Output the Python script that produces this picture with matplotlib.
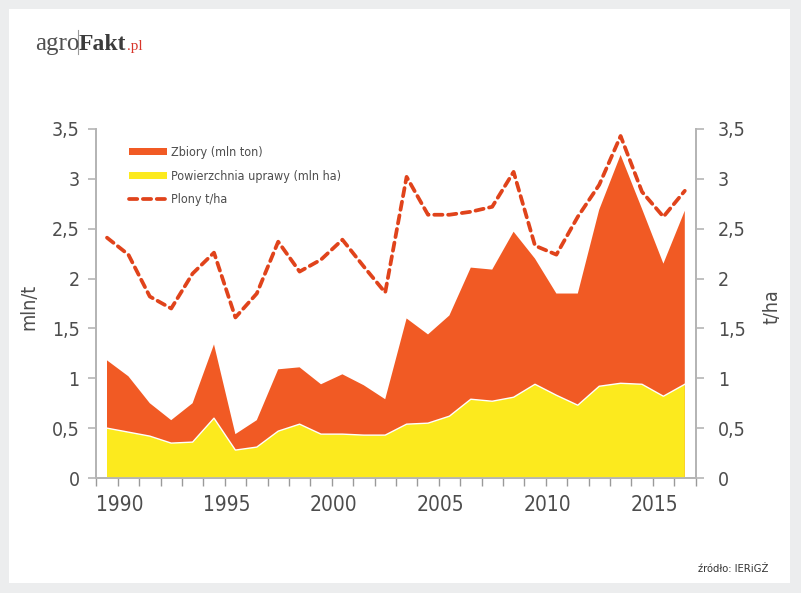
import matplotlib
matplotlib.use('Agg')

import matplotlib.pyplot as plt
from matplotlib.patches import Patch, Rectangle
from matplotlib.lines import Line2D


###### DATA ##########################################################################################
years = list(range(1990, 2018))

# Zbiory (mln ton)
zbiory = [1.18, 1.02, 0.75, 0.58, 0.75, 1.34, 0.44, 0.58, 1.09, 1.11,
          0.94, 1.04, 0.93, 0.79, 1.60, 1.44, 1.63, 2.11, 2.09, 2.47,
          2.20, 1.85, 1.85, 2.69, 3.24, 2.70, 2.15, 2.68]

# Powierzchnia uprawy (mln ha)
powierzchnia = [0.50, 0.46, 0.42, 0.35, 0.36, 0.60, 0.28, 0.31, 0.47, 0.54,
                0.44, 0.44, 0.43, 0.43, 0.54, 0.55, 0.62, 0.79, 0.77, 0.81,
                0.94, 0.83, 0.73, 0.92, 0.95, 0.94, 0.82, 0.94]

# Plony t/ha
plony = [2.41, 2.24, 1.82, 1.70, 2.05, 2.26, 1.61, 1.85, 2.37, 2.07,
         2.19, 2.39, 2.12, 1.86, 3.02, 2.64, 2.64, 2.67, 2.72, 3.07,
         2.33, 2.24, 2.62, 2.94, 3.43, 2.87, 2.62, 2.88]

label_years = [1990, 1995, 2000, 2005, 2010, 2015]
y_ticks = [0, 0.5, 1, 1.5, 2, 2.5, 3, 3.5]
y_tick_labels = ['0', '0,5', '1', '1,5', '2', '2,5', '3', '3,5']

legend_labels = ['Zbiory (mln ton)', 'Powierzchnia uprawy (mln ha)', 'Plony t/ha']


###### STYLE #########################################################################################
ORANGE = '#f15a24'
YELLOW = '#fcea1e'
DASH = '#e0431b'
TEXT = '#4d4d4d'
SPINE = '#b5b5b5'
BG = '#ecedee'

# condensed DejaVu (falls back to plain DejaVu if missing)
plt.rcParams['font.family'] = ['DejaVu Sans']
plt.rcParams['font.stretch'] = 'condensed'


###### FIGURE ########################################################################################
fig = plt.figure(figsize=(8.01, 5.93), dpi=100)
fig.patch.set_facecolor(BG)

# white card behind everything
card = Rectangle((9 / 801, 1 - 583 / 593), 781 / 801, 574 / 593,
                 transform=fig.transFigure, facecolor='white', edgecolor='none', zorder=-10)
fig.patches.append(card)

ax = fig.add_axes([96.3 / 801, 1 - 478 / 593, 599.2 / 801, 349 / 593])
ax.set_facecolor('none')
ax2 = ax.twinx()
ax2.set_facecolor('none')

# areas: harvest behind, area under cultivation in front (overlapping, not stacked)
ax.fill_between(years, 0, zbiory, facecolor=ORANGE, edgecolor='none', zorder=2)
ax.fill_between(years, 0, powierzchnia, facecolor=YELLOW, edgecolor='none', zorder=3)
ax.plot(years, powierzchnia, color='white', linewidth=1.0, zorder=4)

# yield on the right-hand axis
ax2.plot(years, plony, color=DASH, linewidth=2.7, linestyle=(0, (2.2, 1.5)),
         dash_capstyle='round', zorder=5)

for a in (ax, ax2):
    a.set_xlim(years[0] - 0.5, years[-1] + 0.5)
    a.set_ylim(0, 3.5)
    a.spines['top'].set_visible(False)
    for s in a.spines.values():
        s.set_color(SPINE)
        s.set_linewidth(1.3)

ax.set_yticks(y_ticks)
ax.set_yticklabels(y_tick_labels)
ax2.set_yticks(y_ticks)
ax2.set_yticklabels(y_tick_labels)
ax.tick_params(axis='y', colors=SPINE, labelcolor=TEXT, labelsize=14, length=6, width=1.2, pad=6)
ax2.tick_params(axis='y', colors=SPINE, labelcolor=TEXT, labelsize=14, length=6, width=1.2, pad=10)

# category boundaries as minor ticks, year labels as in the original (sit slightly right of the point)
ax.set_xticks([y - 0.5 for y in years] + [years[-1] + 0.5], minor=True)
ax.set_xticks([y + 0.6 for y in label_years])
ax.set_xticklabels([str(y) for y in label_years])
ax.tick_params(axis='x', which='minor', colors='#9a9a9a', length=6, width=1.0)
ax.tick_params(axis='x', which='major', length=0, labelcolor=TEXT, labelsize=15, pad=12)
ax2.tick_params(axis='x', which='both', length=0)

ax.set_ylabel('mln/t', fontsize=14, color=TEXT)
ax.yaxis.set_label_coords(-0.097, 0.49)
ax2.set_ylabel('t/ha', fontsize=14, color=TEXT)
ax2.yaxis.set_label_coords(1.1126, 0.49)

# legend
handles = [Patch(facecolor=ORANGE, edgecolor='none'),
           Patch(facecolor=YELLOW, edgecolor='none'),
           Line2D([], [], color=DASH, linewidth=2.7, linestyle=(0, (2.2, 1.5)), dash_capstyle='round')]
leg = ax2.legend(handles, legend_labels, loc='upper left', bbox_to_anchor=(129 / 801, 1 - 146 / 593),
                 bbox_transform=fig.transFigure, frameon=False, fontsize=9, borderpad=0,
                 borderaxespad=0, handlelength=3.0, handleheight=0.5, handletextpad=0.35,
                 labelspacing=0.85)
for t in leg.get_texts():
    t.set_color(TEXT)

# logo
fig.text(35 / 801, 1 - 50 / 593, 'agro', family='Liberation Serif', fontsize=18, color='#505050')
fig.lines.append(Line2D([78 / 801, 78 / 801], [1 - 30 / 593, 1 - 54 / 593], transform=fig.transFigure,
                        color='#9a9a9a', linewidth=0.8))
fig.text(79 / 801, 1 - 50 / 593, 'Fakt', family='Liberation Serif', fontweight='bold', fontsize=17, color='#3c3c3c')
fig.text(127 / 801, 1 - 50 / 593, '.pl', family='Liberation Serif', fontsize=11, color='#d8352a')

# source
fig.text(768 / 801, 1 - 572 / 593, 'źródło: IERiGŻ', fontsize=8, color='#333333', ha='right')

plt.savefig('out.png', dpi=100, facecolor=fig.get_facecolor())
